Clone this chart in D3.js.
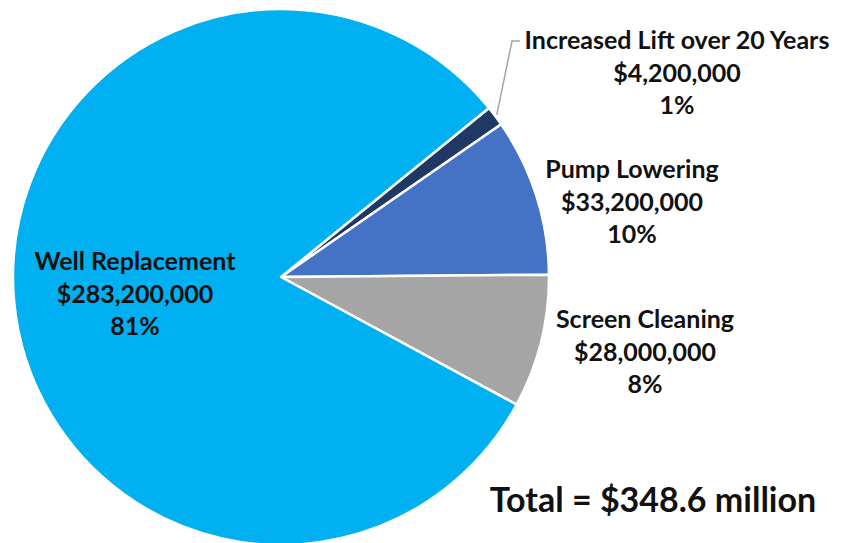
<!DOCTYPE html>
<html>
<head>
<meta charset="utf-8">
<script src="https://cdn.jsdelivr.net/npm/d3@7"></script>
<style>
  body { margin: 0; background: #fff; }
  text { font-family: Lato, "Open Sans", sans-serif; font-weight: bold; fill: #111; }
</style>
</head>
<body>
<svg id="chart" width="850" height="543"></svg>
<script>
const WIDTH = 850;
const HEIGHT = 543;

// slice order runs clockwise from the small slice
const categories = ['Increased Lift over 20 Years', 'Pump Lowering', 'Screen Cleaning', 'Well Replacement'];
const values = [4200000, 33200000, 28000000, 283200000];
const percents = ['1%', '10%', '8%', '81%'];
const colors = ['#203864', '#4472C4', '#A5A5A5', '#00B0F0'];
const totalLabel = 'Total = $348.6 million';

// label centres (x, first line y)
const labelPos = [[677, 43], [632, 172], [645, 322], [135, 264]];

const cx = 281, cy = 277, radius = 268;
const startDeg = 50.9;

const svg = d3.select('#chart');
const chart = svg.append('g')
  .attr('transform', `translate(${cx}, ${cy})`);

const pie = d3.pie()
  .sort(null)
  .value((d) => d)
  .startAngle(startDeg * Math.PI / 180)
  .endAngle((startDeg + 360) * Math.PI / 180);

const arc = d3.arc()
  .innerRadius(0)
  .outerRadius(radius);

const arcs = pie(values);

chart.selectAll('.slice')
  .data(arcs)
  .enter()
  .append('path')
  .attr('class', 'slice')
  .attr('d', arc)
  .style('fill', (d, i) => colors[i])
  .style('stroke', '#fff')
  .style('stroke-width', 2.5)
  .style('stroke-linejoin', 'round');

// leader line for the small slice
const lift = arcs[0];
const mid = (lift.startAngle + lift.endAngle) / 2;
const p0 = [Math.sin(mid) * (radius + 2) + cx, -Math.cos(mid) * (radius + 2) + cy];
svg.append('polyline')
  .attr('points', `${p0[0]},${p0[1]} 512,41 520,41`)
  .style('fill', 'none')
  .style('stroke', '#A6A6A6')
  .style('stroke-width', 1.5);

const fmt = d3.format('$,');

categories.forEach((c, i) => {
  const [x, y] = labelPos[i];
  const lines = [c, fmt(values[i]), percents[i]];
  const t = svg.append('text')
    .attr('text-anchor', 'middle')
    .style('font-size', '25px');
  lines.forEach((l, j) => {
    t.append('tspan')
      .attr('x', x)
      .attr('y', y + j * 32.5)
      .attr('dominant-baseline', 'middle')
      .text(l);
  });
});

svg.append('text')
  .attr('x', 653)
  .attr('y', 503)
  .attr('text-anchor', 'middle')
  .attr('dominant-baseline', 'middle')
  .style('font-size', '34px')
  .text(totalLabel);
</script>
</body>
</html>
